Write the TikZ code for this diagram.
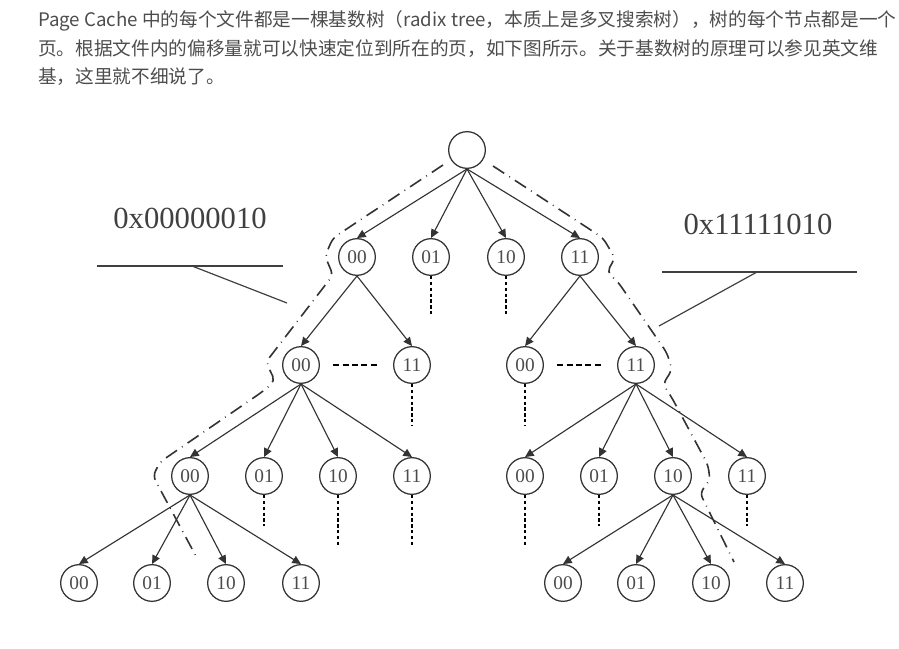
\documentclass[tikz,border=0pt]{standalone}
\usepackage{fontspec}
\setmainfont{Liberation Serif}
\newfontfamily\cjkfont{Noto Sans CJK SC}
\usetikzlibrary{arrows.meta}

\definecolor{txtgray}{HTML}{4D4D4D}
\definecolor{linegray}{HTML}{333333}

\begin{document}
\begin{tikzpicture}[x=0.75pt,y=-0.75pt,
		intro/.style={anchor=base west,inner sep=0pt,text=txtgray,font=\cjkfont\fontsize{14}{14}\selectfont},
		bit/.style={circle,draw=linegray,line width=0.95pt,minimum size=27.5pt,inner sep=0pt,text=black!70,font=\fontsize{14.5}{14.5}\selectfont},
		edge/.style={draw=linegray,line width=0.85pt,-{Triangle[length=6.5pt,width=6pt]}},
		more/.style={line width=2.2pt,dash pattern=on 2.4pt off 2pt},
		gap/.style={line width=1.4pt,dash pattern=on 4.5pt off 2.5pt},
		route/.style={draw=black!80,line width=1.2pt,dash pattern=on 10pt off 4.5pt on 0.6pt off 4.5pt,rounded corners=4pt},
		addr/.style={inner sep=0pt,text=black!75,font=\fontsize{23}{23}\selectfont},
		lead/.style={draw=black!75,line width=0.9pt}]
		\useasboundingbox (0,0) rectangle (899,649);
		
		% Intro text
		\node[intro] (t1) at (38,27) {Page Cache 中的每个文件都是一棵基数树（radix tree，本质上是多叉搜索树），树的每个节点都是一个};
		\node[intro] (t2) at (38,55.5) {页。根据文件内的偏移量就可以快速定位到所在的页，如下图所示。关于基数树的原理可以参见英文维};
		\node[intro] (t3) at (38,84) {基，这里就不细说了。};
		
		% Define nodes
		\node[bit] (R) at (467,150) {};
		
		\node[bit] (A00) at (357,257) {00};
		\node[bit] (A01) at (431,257) {01};
		\node[bit] (A10) at (506,257) {10};
		\node[bit] (A11) at (580,257) {11};
		
		\node[bit] (B00) at (301,365) {00};
		\node[bit] (B11) at (412,365) {11};
		\node[bit] (C00) at (525,365) {00};
		\node[bit] (C11) at (636,365) {11};
		
		\node[bit] (D00) at (190,476) {00};
		\node[bit] (D01) at (264,476) {01};
		\node[bit] (D10) at (338,476) {10};
		\node[bit] (D11) at (412,476) {11};
		\node[bit] (E00) at (525,476) {00};
		\node[bit] (E01) at (599,476) {01};
		\node[bit] (E10) at (673,476) {10};
		\node[bit] (E11) at (747,476) {11};
		
		\node[bit] (F00) at (79,583) {00};
		\node[bit] (F01) at (152,583) {01};
		\node[bit] (F10) at (226,583) {10};
		\node[bit] (F11) at (301,583) {11};
		\node[bit] (G00) at (563,583) {00};
		\node[bit] (G01) at (636,583) {01};
		\node[bit] (G10) at (711,583) {10};
		\node[bit] (G11) at (785,583) {11};
		
		% Draw edges
		\draw[edge] (R.south) -- (A00.north);
		\draw[edge] (R.south) -- (A01.north);
		\draw[edge] (R.south) -- (A10.north);
		\draw[edge] (R.south) -- (A11.north);
		
		\draw[edge] (A00.south) -- (B00.north);
		\draw[edge] (A00.south) -- (B11.north);
		\draw[edge] (A11.south) -- (C00.north);
		\draw[edge] (A11.south) -- (C11.north);
		
		\draw[edge] (B00.south) -- (D00.north);
		\draw[edge] (B00.south) -- (D01.north);
		\draw[edge] (B00.south) -- (D10.north);
		\draw[edge] (B00.south) -- (D11.north);
		\draw[edge] (C11.south) -- (E00.north);
		\draw[edge] (C11.south) -- (E01.north);
		\draw[edge] (C11.south) -- (E10.north);
		\draw[edge] (C11.south) -- (E11.north);
		
		\draw[edge] (D00.south) -- (F00.north);
		\draw[edge] (D00.south) -- (F01.north);
		\draw[edge] (D00.south) -- (F10.north);
		\draw[edge] (D00.south) -- (F11.north);
		\draw[edge] (E10.south) -- (G00.north);
		\draw[edge] (E10.south) -- (G01.north);
		\draw[edge] (E10.south) -- (G10.north);
		\draw[edge] (E10.south) -- (G11.north);
		
		% Draw omitted branches
		\draw[more] (A01.south) -- ++(0,40);
		\draw[more] (A10.south) -- ++(0,40);
		\draw[more] (B11.south) -- ++(0,42);
		\draw[more] (C00.south) -- ++(0,42);
		\draw[more] (D01.south) -- ++(0,31);
		\draw[more] (D10.south) -- ++(0,50);
		\draw[more] (D11.south) -- ++(0,50);
		\draw[more] (E00.south) -- ++(0,50);
		\draw[more] (E01.south) -- ++(0,31);
		\draw[more] (E11.south) -- ++(0,31);
		\draw[gap,shorten <=10pt,shorten >=12.4pt] (B00) -- (B11);
		\draw[gap,shorten <=10pt,shorten >=12.4pt] (C00) -- (C11);
		
		% Draw search routes
		\draw[route] (443,165) -- (333,238) -- (325,256) -- (333,275) -- (266,362) -- (275,381) -- (262,392) -- (160,462) -- (153,476) -- (198,560);
		\draw[route] (493,166) -- (603,238) -- (615,258) -- (607,272) -- (618,282) -- (667,353) -- (672,370) -- (663,384) -- (672,398) -- (708,465) -- (710,480) -- (700,493) -- (734,562);
		
		% Label offsets
		\coordinate (L1) at (97,266);
		\coordinate (L2) at (283,266);
		\coordinate (L3) at (192,266);
		\coordinate (L4) at (287,303);
		\coordinate (M1) at (662,272);
		\coordinate (M2) at (857,272);
		\coordinate (M3) at (757,272);
		\coordinate (M4) at (659,326);
		\node[addr] (hexL) at (190,218) {0x00000010};
		\node[addr] (hexR) at (758,224) {0x11111010};
		\draw[lead] (L1) -- (L2);
		\draw[lead] (L3) -- (L4);
		\draw[lead] (M1) -- (M2);
		\draw[lead] (M3) -- (M4);
	\end{tikzpicture}
\end{document}
